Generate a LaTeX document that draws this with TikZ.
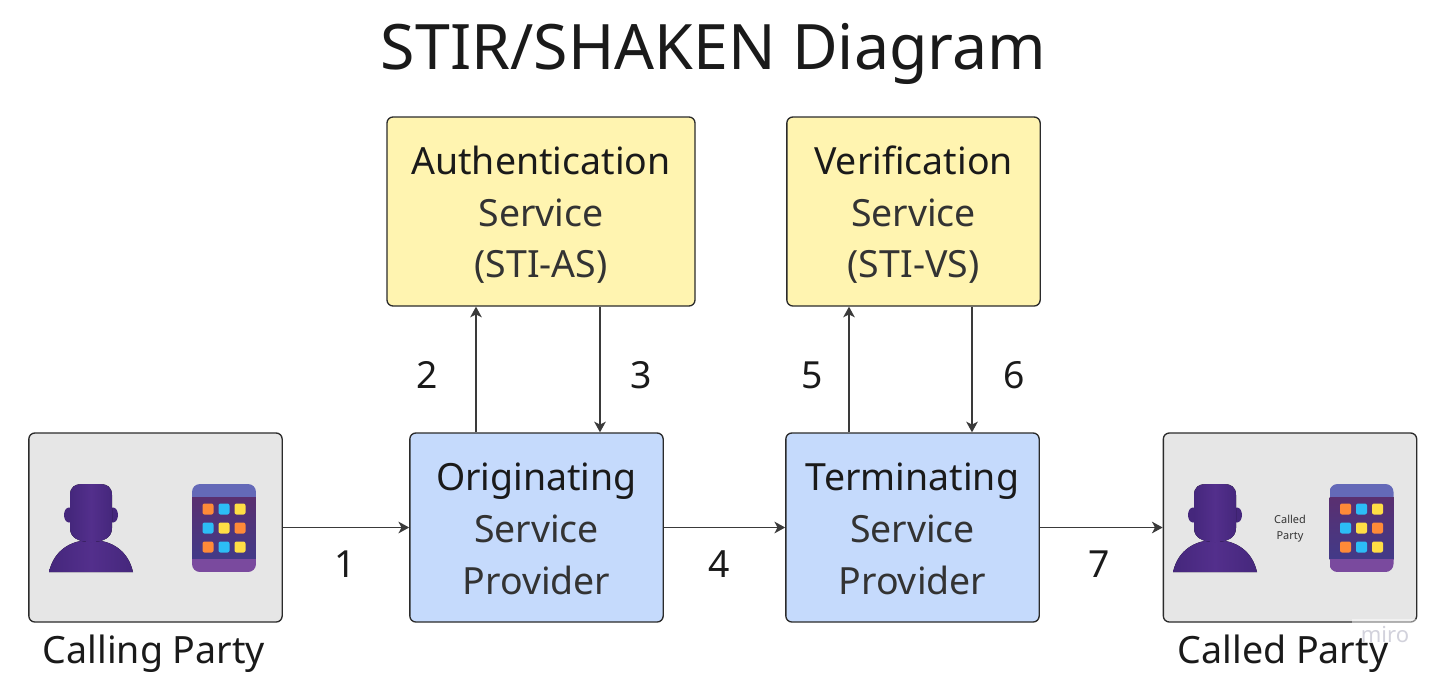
\documentclass[tikz,border=0pt]{standalone}
\usepackage{fontspec}
\setmainfont{Noto Sans}
\usetikzlibrary{arrows.meta}
\definecolor{ink}{HTML}{1A1A1A}
\definecolor{soft}{HTML}{333333}
\definecolor{edgecol}{HTML}{2B2B2B}
\definecolor{linecol}{HTML}{3A3A3A}
\definecolor{yellowbox}{HTML}{FFF4B0}
\definecolor{bluebox}{HTML}{C5DAFC}
\definecolor{greybox}{HTML}{E6E6E6}
\definecolor{pdark}{HTML}{45277C}
\definecolor{pmid}{HTML}{532F8C}
\definecolor{tabtop}{HTML}{6469B8}
\definecolor{tabmid}{HTML}{5A2F70}
\definecolor{tablow}{HTML}{423A88}
\definecolor{tabbot}{HTML}{7A4A9E}
\definecolor{korange}{HTML}{FF8A38}
\definecolor{kblue}{HTML}{2CBDF6}
\definecolor{kyellow}{HTML}{FFDE45}
\definecolor{wmark}{HTML}{D2D2DC}
\tikzset{
  x=0.75pt,y=-0.75pt,
  box/.style={draw=edgecol,line width=1pt,rounded corners=4.5pt,minimum height=141.75pt,inner sep=0pt},
  ybox/.style={box,fill=yellowbox},
  bbox/.style={box,fill=bluebox},
  gbox/.style={box,fill=greybox},
  boxtext/.style={inner sep=0pt,align=center,text=soft,font=\fontsize{28.1}{38.8}\selectfont},
  link/.style={draw=linecol,line width=1.1pt,-{Stealth[length=8pt,width=8.7pt,inset=2.2pt]}},
  num/.style={text=ink,font=\fontsize{28}{30}\selectfont,inner sep=0pt,anchor=base},
  captext/.style={text=ink,font=\fontsize{28.2}{32}\selectfont,inner sep=0pt,anchor=base},
  pics/person/.style={code={
    \fill[left color=pdark,right color=pdark,middle color=pmid] (0,88) .. controls (5,66) and (22,56) .. (42,56) .. controls (62,56) and (79,66) .. (84,88) -- cycle;
    \fill[pdark] (20,31) circle[x radius=5,y radius=7.5];
    \fill[pdark] (64,31) circle[x radius=5,y radius=7.5];
    \fill[left color=pdark,right color=pdark,middle color=pmid] (21,11) .. controls (21,3) and (26,0) .. (33,0) -- (51,0) .. controls (58,0) and (63,3) .. (63,11) -- (63,44) .. controls (63,54) and (54,58) .. (42,58) .. controls (30,58) and (21,54) .. (21,44) -- cycle;
  }},
  pics/tablet/.style={code={
    \begin{scope}
      \clip[rounded corners=6pt] (0,0) rectangle (64,88);
      \fill[top color=tabmid,bottom color=tablow] (0,13) rectangle (64,75);
      \fill[tabtop] (0,0) rectangle (64,13);
      \fill[tabbot] (0,75) rectangle (64,88);
    \end{scope}
    \foreach \px/\py/\pc in {16/25/korange,32/25/kblue,48/25/kyellow,16/44/kblue,32/44/kyellow,48/44/korange,16/63/korange,32/63/kblue,48/63/kyellow}
      \fill[\pc,rounded corners=1.5pt] (\px-5.5,\py-5.5) rectangle (\px+5.5,\py+5.5);
  }}
}
\begin{document}
\begin{tikzpicture}
\useasboundingbox (0,0) rectangle (1447,697);
\node[text=ink,font=\fontsize{47}{50}\selectfont,inner sep=0pt,anchor=base] (title) at (713.5,69) {STIR/SHAKEN Diagram};

\node[ybox,minimum width=231pt] (auth) at (541,211.5) {};
\node[ybox,minimum width=190pt] (verif) at (913.5,211.5) {};
\node[bbox,minimum width=190pt] (orig) at (536.5,527.5) {};
\node[bbox,minimum width=190pt] (term) at (912.5,527.5) {};
\node[gbox,minimum width=190pt] (calling) at (155.5,527.5) {};
\node[gbox,minimum width=190pt] (called) at (1290,527.5) {};

\node[boxtext,yshift=-2.5pt] (authtext) at (auth.center) {\textcolor{ink}{Authentication}\\Service\\(STI-AS)};
\node[boxtext,yshift=-2.5pt] (veriftext) at (verif.center) {\textcolor{ink}{Verification}\\Service\\(STI-VS)};
\node[boxtext,yshift=-1pt] (origtext) at (orig.center) {\textcolor{ink}{Originating}\\Service\\Provider};
\node[boxtext,yshift=-1pt] (termtext) at (term.center) {\textcolor{ink}{Terminating}\\Service\\Provider};

\pic at (49,484) {person};
\pic at (192,484) {tablet};
\pic at (1173,484) {person};
\pic at (1329.5,484) {tablet};
\node[text=soft,font=\fontsize{8.2}{12}\selectfont,inner sep=0pt,align=center] (smalllabel) at (1290,529) {Called\\Party};

\coordinate (xa) at (476,0);
\coordinate (xb) at (600,0);
\coordinate (xc) at (849,0);
\coordinate (xd) at (972,0);
\draw[link] (calling.east) -- (orig.west);
\draw[link] (orig.east) -- (term.west);
\draw[link] (term.east) -- (called.west);
\draw[link] (orig.north -| xa) -- (auth.south -| xa);
\draw[link] (auth.south -| xb) -- (orig.north -| xb);
\draw[link] (term.north -| xc) -- (verif.south -| xc);
\draw[link] (verif.south -| xd) -- (term.north -| xd);

\node[num] (n1) at (345.5,577) {1};
\node[num] (n2) at (427.5,388) {2};
\node[num] (n3) at (641.5,388) {3};
\node[num] (n4) at (719.5,577) {4};
\node[num] (n5) at (812.5,388) {5};
\node[num] (n6) at (1014.5,388) {6};
\node[num] (n7) at (1099.5,577) {7};

\fill[white,opacity=.45] (1352,619) rectangle (1416,648);
\node[text=wmark,font=\fontsize{16.5}{18}\selectfont,inner sep=0pt,anchor=base] (miro) at (1385,642) {miro};

\node[captext] (callingcap) at (154,663) {Calling Party};
\node[captext] (calledcap) at (1283,663) {Called Party};
\end{tikzpicture}
\end{document}
